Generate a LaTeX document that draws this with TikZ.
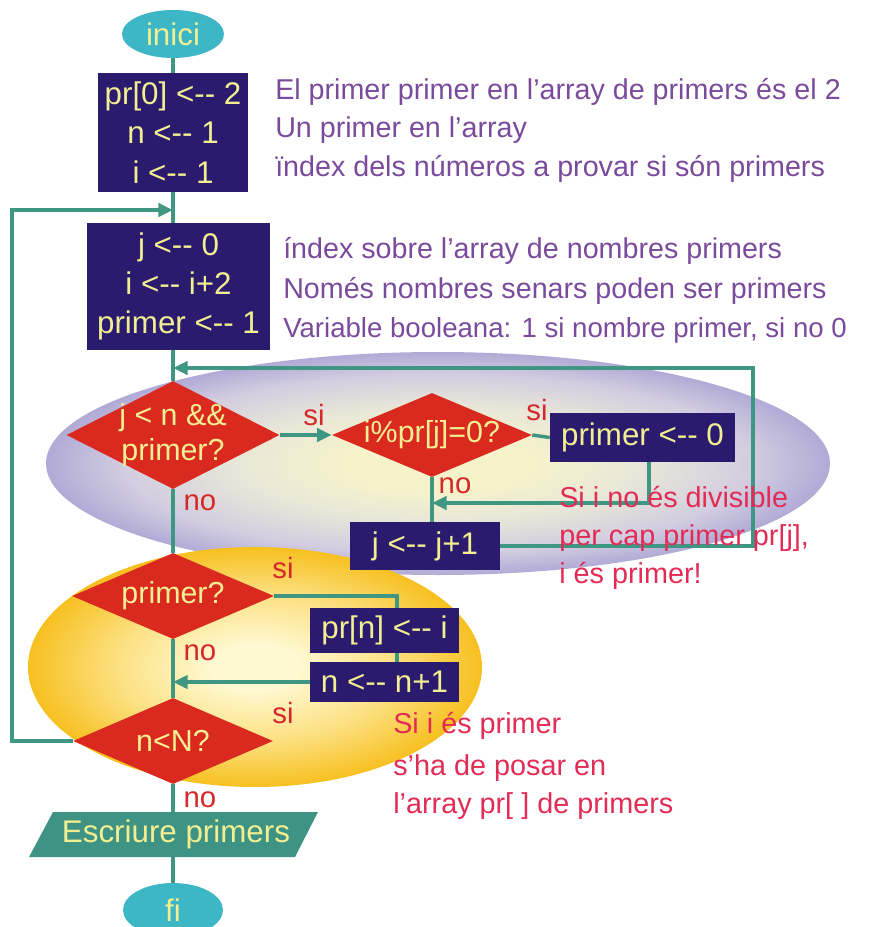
\documentclass[tikz,border=0pt]{standalone}
\usepackage{fontspec}
\setmainfont{Liberation Sans}
\usetikzlibrary{shapes.geometric,arrows.meta}

\definecolor{boxnavy}{HTML}{2B1B6F}
\definecolor{boxtext}{HTML}{F2EE92}
\definecolor{decred}{HTML}{DA2A20}
\definecolor{flowteal}{HTML}{3F9783}
\definecolor{termcyan}{HTML}{3DB7C6}
\definecolor{iofill}{HTML}{3E9384}
\definecolor{notepurple}{HTML}{7A4A9C}
\definecolor{branchred}{HTML}{D6282A}
\definecolor{remarkred}{HTML}{E22C55}
\definecolor{lavcenter}{HTML}{F6F3CA}
\definecolor{lavmid}{HTML}{E8E6D8}
\definecolor{lavsoft}{HTML}{D2CDE0}
\definecolor{lavedge}{HTML}{B1AAD6}
\definecolor{suncenter}{HTML}{FFF8D0}
\definecolor{sunmid}{HTML}{FCE184}
\definecolor{sunedge}{HTML}{F7C020}

\pgfdeclareradialshading{lavenderglow}{\pgfpoint{0bp}{0bp}}{color(0bp)=(lavcenter); color(6bp)=(lavcenter); color(13bp)=(lavmid); color(20bp)=(lavsoft); color(25bp)=(lavedge); color(50bp)=(lavedge)}
\pgfdeclareradialshading{sunglow}{\pgfpoint{0bp}{0bp}}{color(0bp)=(suncenter); color(5bp)=(suncenter); color(15bp)=(sunmid); color(25bp)=(sunedge); color(50bp)=(sunedge)}

% assignment arrow "<--" without the en-dash ligature
\newcommand\getsarrow{<-{}-}

\tikzset{
  sz/.style 2 args={minimum width=#1*0.75pt, minimum height=#2*0.75pt},
  procbox/.style={rectangle, fill=boxnavy, text=boxtext, inner sep=0pt, align=center,
    font=\fontsize{23.5}{29.5}\selectfont},
  decision/.style={diamond, fill=decred, inner sep=0pt},
  dectext/.style={text=boxtext, align=center, inner sep=0pt, font=\fontsize{22.8}{26.5}\selectfont},
  terminal/.style={ellipse, fill=termcyan, text=boxtext, inner sep=0pt, font=\fontsize{23.5}{28}\selectfont},
  iotext/.style={text=boxtext, inner sep=0pt, font=\fontsize{23.5}{28}\selectfont},
  flow/.style={draw=flowteal, line width=2.6pt},
  arr/.style={flow, -{Triangle[length=11pt,width=10pt]}},
  comment/.style={text=notepurple, anchor=base west, inner sep=0pt, font=\fontsize{21.5}{25}\selectfont},
  remark/.style={text=remarkred, anchor=base west, inner sep=0pt, font=\fontsize{21.6}{25}\selectfont},
  branch/.style={text=branchred, anchor=base, inner sep=0pt, font=\fontsize{22}{25}\selectfont},
}

\begin{document}
\begin{tikzpicture}[x=0.75pt,y=-0.75pt]
\useasboundingbox (0,0) rectangle (871,927);

% glowing background zones
\shade[shading=lavenderglow] (438,463.5) ellipse [x radius=392, y radius=111.5];
\shade[shading=sunglow] (255,667) ellipse [x radius=227, y radius=120];

% flowchart nodes
\node[terminal, sz={102}{48}] (start) at (173,34) {inici};
\node[procbox, sz={150}{119}] (init) at (173,132.5) {pr[0] \getsarrow{} 2\\n \getsarrow{} 1\\i \getsarrow{} 1};
\node[procbox, sz={183}{127}] (reset) at (178.5,286.5) {j \getsarrow{} 0\\i \getsarrow{} i+2\\primer \getsarrow{} 1};
\node[decision, sz={213}{108}] (more) at (173,435) {};
\node[dectext] (moretxt) at (more) {j < n \&\&\\primer?};
\node[decision, sz={200}{84}] (divides) at (432,435) {};
\node[dectext] (dividestxt) at (divides) {i\%pr[j]=0?};
\node[procbox, sz={185}{49}] (clear) at (642.5,437.5) {primer \getsarrow{} 0};
\node[procbox, sz={150}{48}] (next) at (425,546) {j \getsarrow{} j+1};
\node[decision, sz={202}{86}] (isprime) at (173,596) {};
\node[dectext] (isprimetxt) at (isprime) {primer?};
\node[procbox, sz={149}{45}] (store) at (384.5,630.5) {pr[n] \getsarrow{} i};
\node[procbox, sz={149}{40}] (count) at (384.5,682) {n \getsarrow{} n+1};
\node[decision, sz={200}{86}] (limit) at (173,741) {};
\node[dectext] (limittxt) at (limit) {n<N?};
\fill[iofill] (29,857) -- (53,812) -- (318,812) -- (295,857) -- cycle;
\node[iotext, sz={265}{45}] (write) at (176,834.5) {Escriure primers};
\node[terminal, sz={100}{54}] (stop) at (173,910) {fi};

% bend points of the connectors
\coordinate (loopL) at (12,210);
\coordinate (backR) at (753,368);
\coordinate (clearDrop) at (649,503);
\coordinate (storeTap) at (397,596);

% connectors
\draw[flow] (start.south) -- (init.north);
\draw[flow] (init.south) -- (reset.north -| init.south);
\draw[arr] (limit.west) -- (limit.west -| loopL) -- (loopL) -- (loopL -| init.south);
\draw[flow] (reset.south -| more.north) -- (more.north);
\draw[arr] (more.east) -- (divides.west);
\draw[flow] (divides.east) -- (clear.west);
\draw[arr] (clear.south -| clearDrop) -- (clearDrop) -- (clearDrop -| divides.south);
\draw[flow] (divides.south) -- (next.north -| divides.south);
\draw[arr] (next.east) -- (next.east -| backR) -- (backR) -- (backR -| more.north);
\draw[flow] (more.south) -- (isprime.north);
\draw[flow] (isprime.east) -- (storeTap) -- (storeTap |- store.north);
\draw[flow] (store.south -| storeTap) -- (count.north -| storeTap);
\draw[arr] (count.west) -- (count.west -| isprime.south);
\draw[flow] (isprime.south) -- (limit.north);
\draw[flow] (limit.south) -- (write.north -| limit.south);
\draw[flow] (write.south -| stop.north) -- (stop.north);

% branch labels
\node[branch] (si1) at (314,425) {si};
\node[branch] (no1) at (200,510) {no};
\node[branch] (si2) at (537,420) {si};
\node[branch] (no2) at (455,493) {no};
\node[branch] (si3) at (283,578) {si};
\node[branch] (no3) at (200,660) {no};
\node[branch] (si4) at (283,723) {si};
\node[branch] (no4) at (200,807) {no};

% explanations of the assignments
\node[comment] (c1) at (275,100) {El primer primer en l’array de primers és el 2};
\node[comment] (c2) at (275,138) {Un primer en l’array};
\node[comment] (c3) at (275,177) {ïndex dels números a provar si són primers};
\node[comment] (c4) at (283,258) {índex sobre l’array de nombres primers};
\node[comment] (c5) at (283,298) {Només nombres senars poden ser primers};
\node[comment, font=\fontsize{20.7}{25}\selectfont] (c6) at (283,337) {Variable booleana: 1 si nombre primer, si no 0};

% remarks
\node[remark] (r1) at (559,507) {Si i no és divisible};
\node[remark] (r2) at (559,545) {per cap primer pr[j],};
\node[remark] (r3) at (559,583) {i és primer!};
\node[remark] (r4) at (393,733) {Si i és primer};
\node[remark] (r5) at (393,775) {s’ha de posar en};
\node[remark] (r6) at (393,813) {l’array pr[ ] de primers};
\end{tikzpicture}
\end{document}
